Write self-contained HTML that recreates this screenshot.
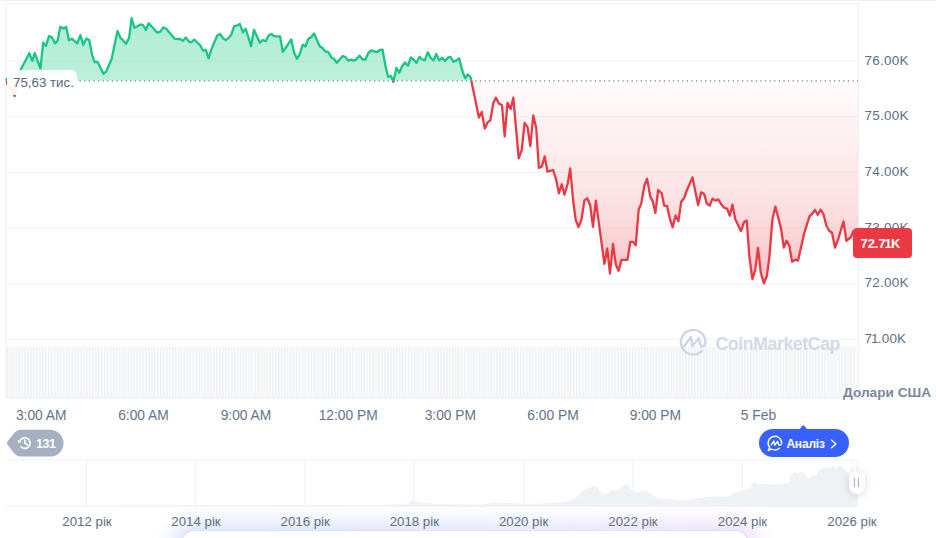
<!DOCTYPE html>
<html lang="uk"><head><meta charset="utf-8"><title>Chart</title>
<style>
html,body{margin:0;padding:0;background:#fff;}
body{width:936px;height:538px;overflow:hidden;position:relative;font-family:"Liberation Sans",sans-serif;color:#616e85;}
#chart{position:absolute;left:0;top:0;display:block}
.yl{position:absolute;left:864.6px;letter-spacing:0.2px;font-size:13.5px;line-height:16px;height:16px;color:#616e85;white-space:nowrap}
.xl{position:absolute;top:408.3px;font-size:13.8px;line-height:16px;width:100px;margin-left:-50px;text-align:center;color:#66738a;white-space:nowrap}
.yr{position:absolute;top:514px;font-size:13.25px;line-height:16px;width:100px;margin-left:-50px;text-align:center;color:#616e85;white-space:nowrap;z-index:3}
#glow{position:absolute;left:181px;top:529.5px;width:568px;height:40px;background:#fff;border-radius:14px 14px 0 0;border:1px solid rgba(160,175,250,0.35);border-bottom:none;box-sizing:border-box;z-index:1}
#glowbg{position:absolute;left:173px;top:522px;width:584px;height:50px;border-radius:20px;background:linear-gradient(90deg,rgba(110,140,250,0.26),rgba(135,140,250,0.24) 60%,rgba(190,130,235,0.27));filter:blur(10px);z-index:0}
.n{margin:0 -1px 0 -1.3px}
.n2{margin:0 -0.6px 0 -1.1px}
#start{position:absolute;left:7px;top:70px;width:70px;height:25px;background:rgba(255,255,255,0.92);border-radius:0 6px 6px 0;font-size:13.3px;line-height:26px;color:#58667e;white-space:nowrap;box-sizing:border-box;padding-left:6px}
#price{position:absolute;left:853px;top:228px;width:59px;height:29.5px;background:#ea3943;border-radius:4px;color:#fff;font-weight:bold;font-size:13px;line-height:31px;text-align:left;padding-left:7.5px;box-sizing:border-box;letter-spacing:-0.05px}
#usd{position:absolute;left:843px;top:384.8px;font-size:13.65px;line-height:16px;font-weight:bold;color:#7c879b;white-space:nowrap}
#wm{position:absolute;left:715.5px;top:332.5px;font-size:17.6px;line-height:22px;font-weight:bold;color:#d3d9e6;white-space:nowrap;letter-spacing:-0.35px}
#hist{position:absolute;left:0;top:0}
#histt{position:absolute;left:36px;top:437.1px;font-size:12.5px;line-height:15px;font-weight:bold;color:#fff;letter-spacing:-0.45px}
#an{position:absolute;left:759px;top:429px;width:90px;height:28px;border-radius:14px;background:#3861fb;z-index:2}
#ant{position:absolute;left:786.4px;top:437.2px;font-size:12px;line-height:14px;font-weight:bold;color:#fff;z-index:3;white-space:nowrap;letter-spacing:-0.2px}
#handle{position:absolute;left:849px;top:471px;width:15.5px;height:23px;border-radius:8px;background:#fff;box-shadow:0 1px 8px rgba(88,102,126,0.24);z-index:4}
#handle i{position:absolute;top:7px;width:1.3px;height:9px;background:#a6b0c3}
</style></head><body>
<svg id="chart" width="936" height="538" viewBox="0 0 936 538">
<defs>
<linearGradient id="gg" x1="0" y1="0" x2="0" y2="1"><stop offset="0" stop-color="#16c784" stop-opacity="0.34"/><stop offset="1" stop-color="#16c784" stop-opacity="0.27"/></linearGradient>
<linearGradient id="rg" gradientUnits="userSpaceOnUse" x1="0" y1="80" x2="0" y2="290"><stop offset="0" stop-color="#ea3943" stop-opacity="0.02"/><stop offset="0.33" stop-color="#ea3943" stop-opacity="0.09"/><stop offset="0.6" stop-color="#ea3943" stop-opacity="0.155"/><stop offset="0.81" stop-color="#ea3943" stop-opacity="0.245"/><stop offset="1" stop-color="#ea3943" stop-opacity="0.3"/></linearGradient>
<pattern id="vol" x="6.6" y="0" width="2.95" height="60" patternUnits="userSpaceOnUse"><rect x="0" y="0" width="1.6" height="60" fill="#edf0f4"/></pattern>
<filter id="hs" x="-100%" y="-100%" width="300%" height="300%"><feDropShadow dx="0" dy="1" stdDeviation="3" flood-color="#58667e" flood-opacity="0.25"/></filter>
<clipPath id="cu"><rect x="5" y="0" width="854" height="80.8"/></clipPath><clipPath id="cd"><rect x="5" y="80.8" width="854" height="320"/></clipPath>
</defs>
<rect x="0" y="0" width="936" height="1" fill="#eeeeee"/>
<rect x="6" y="60.6" width="852.5" height="1" fill="#f2f3f5"/>
<rect x="6" y="116.3" width="852.5" height="1" fill="#f2f3f5"/>
<rect x="6" y="172.0" width="852.5" height="1" fill="#f2f3f5"/>
<rect x="6" y="227.6" width="852.5" height="1" fill="#f2f3f5"/>
<rect x="6" y="283.3" width="852.5" height="1" fill="#f2f3f5"/>
<rect x="6" y="339.0" width="852.5" height="1" fill="#f2f3f5"/>
<rect x="6.6" y="347" width="850" height="51" fill="url(#vol)"/>
<rect x="6.1" y="3.8" width="852.4" height="394.2" fill="none" stroke="#eeeff1" stroke-width="1.1"/>
<g clip-path="url(#cu)"><path d="M6.6,79.0 L7.3,84.0 L11.0,88.0 L14.6,96.0 L17.6,84.0 L20.9,69.2 L29.3,53.2 L32.3,60.9 L34.8,53.2 L40.4,68.5 L43.2,42.7 L46.0,45.9 L49.0,36.2 L51.8,37.2 L55.0,43.4 L57.5,40.7 L60.3,26.7 L63.4,28.4 L66.2,27.0 L69.0,40.4 L71.8,38.6 L77.3,43.4 L80.4,35.1 L83.3,44.8 L86.4,38.6 L89.2,40.0 L92.0,54.6 L94.7,62.2 L97.5,61.8 L103.4,73.8 L106.2,71.3 L111.5,59.5 L117.5,30.9 L120.5,37.9 L122.8,40.0 L125.9,43.9 L129.1,37.9 L131.6,18.1 L134.4,27.8 L140.6,24.4 L143.0,25.0 L145.9,29.8 L148.7,23.2 L157.3,32.7 L160.4,31.6 L163.2,27.4 L166.0,28.5 L174.6,38.8 L180.2,39.0 L183.0,40.9 L185.8,37.4 L188.6,41.4 L191.5,42.3 L194.3,39.5 L200.1,45.3 L203.2,50.8 L205.7,49.7 L208.5,58.3 L211.5,49.0 L217.1,35.8 L220.0,34.0 L223.1,38.3 L225.6,40.2 L228.7,37.9 L231.2,34.8 L234.3,26.0 L237.0,25.6 L239.8,23.9 L242.9,32.3 L245.7,28.8 L251.1,46.2 L253.9,29.8 L259.9,42.7 L262.7,40.0 L265.8,41.1 L268.6,35.5 L271.4,34.0 L274.1,36.2 L280.1,36.5 L282.8,51.8 L291.3,39.5 L294.1,52.5 L296.9,58.8 L299.6,54.3 L302.7,44.8 L305.5,46.5 L308.3,38.8 L311.1,37.2 L314.1,33.4 L319.7,46.2 L322.5,48.0 L325.4,51.5 L328.2,51.8 L331.3,57.4 L334.1,59.0 L336.8,62.7 L342.7,56.0 L345.5,57.1 L348.3,60.6 L351.1,59.7 L354.3,60.6 L356.8,58.8 L359.6,55.6 L362.6,59.5 L365.4,59.5 L368.2,53.2 L371.1,50.4 L376.7,52.2 L379.8,50.0 L382.6,49.7 L385.4,65.7 L388.1,76.9 L390.9,75.9 L393.4,81.8 L396.5,67.8 L399.3,72.7 L402.1,66.2 L404.9,62.5 L408.1,65.7 L410.9,57.4 L413.6,59.5 L416.4,62.9 L419.5,56.7 L422.3,59.5 L424.8,60.2 L427.9,52.2 L430.8,58.1 L433.6,60.4 L436.2,53.9 L439.4,60.4 L442.2,57.7 L445.0,60.9 L448.1,57.4 L450.6,57.0 L453.6,61.8 L456.4,60.4 L459.2,58.3 L462.4,71.3 L465.2,78.3 L467.7,74.5 L470.5,76.9 L471.4,80.8 L6,80.8 Z" fill="url(#gg)"/></g>
<g clip-path="url(#cd)"><path d="M6.6,79.0 L7.3,84.0 L11.0,88.0 L14.6,96.0 L17.6,84.0 L20.9,69.2 L29.3,53.2 L32.3,60.9 L34.8,53.2 L40.4,68.5 L43.2,42.7 L46.0,45.9 L49.0,36.2 L51.8,37.2 L55.0,43.4 L57.5,40.7 L60.3,26.7 L63.4,28.4 L66.2,27.0 L69.0,40.4 L71.8,38.6 L77.3,43.4 L80.4,35.1 L83.3,44.8 L86.4,38.6 L89.2,40.0 L92.0,54.6 L94.7,62.2 L97.5,61.8 L103.4,73.8 L106.2,71.3 L111.5,59.5 L117.5,30.9 L120.5,37.9 L122.8,40.0 L125.9,43.9 L129.1,37.9 L131.6,18.1 L134.4,27.8 L140.6,24.4 L143.0,25.0 L145.9,29.8 L148.7,23.2 L157.3,32.7 L160.4,31.6 L163.2,27.4 L166.0,28.5 L174.6,38.8 L180.2,39.0 L183.0,40.9 L185.8,37.4 L188.6,41.4 L191.5,42.3 L194.3,39.5 L200.1,45.3 L203.2,50.8 L205.7,49.7 L208.5,58.3 L211.5,49.0 L217.1,35.8 L220.0,34.0 L223.1,38.3 L225.6,40.2 L228.7,37.9 L231.2,34.8 L234.3,26.0 L237.0,25.6 L239.8,23.9 L242.9,32.3 L245.7,28.8 L251.1,46.2 L253.9,29.8 L259.9,42.7 L262.7,40.0 L265.8,41.1 L268.6,35.5 L271.4,34.0 L274.1,36.2 L280.1,36.5 L282.8,51.8 L291.3,39.5 L294.1,52.5 L296.9,58.8 L299.6,54.3 L302.7,44.8 L305.5,46.5 L308.3,38.8 L311.1,37.2 L314.1,33.4 L319.7,46.2 L322.5,48.0 L325.4,51.5 L328.2,51.8 L331.3,57.4 L334.1,59.0 L336.8,62.7 L342.7,56.0 L345.5,57.1 L348.3,60.6 L351.1,59.7 L354.3,60.6 L356.8,58.8 L359.6,55.6 L362.6,59.5 L365.4,59.5 L368.2,53.2 L371.1,50.4 L376.7,52.2 L379.8,50.0 L382.6,49.7 L385.4,65.7 L388.1,76.9 L390.9,75.9 L393.4,81.8 L396.5,67.8 L399.3,72.7 L402.1,66.2 L404.9,62.5 L408.1,65.7 L410.9,57.4 L413.6,59.5 L416.4,62.9 L419.5,56.7 L422.3,59.5 L424.8,60.2 L427.9,52.2 L430.8,58.1 L433.6,60.4 L436.2,53.9 L439.4,60.4 L442.2,57.7 L445.0,60.9 L448.1,57.4 L450.6,57.0 L453.6,61.8 L456.4,60.4 L459.2,58.3 L462.4,71.3 L465.2,78.3 L467.7,74.5 L470.5,76.9 L471.4,80.8 L472.2,85.0 L478.9,117.5 L481.7,111.9 L484.8,128.6 L487.6,122.4 L490.4,120.3 L493.3,102.9 L495.9,97.7 L499.1,103.8 L501.9,105.0 L504.7,136.3 L507.5,102.9 L510.6,108.9 L513.3,97.7 L518.7,158.4 L521.7,150.1 L524.6,122.8 L527.5,127.2 L530.3,146.0 L533.3,115.4 L536.2,128.0 L538.9,167.9 L541.9,166.4 L544.7,156.4 L547.5,171.7 L553.1,170.0 L555.9,178.6 L558.9,193.3 L561.7,184.3 L564.5,194.8 L567.7,183.7 L570.2,168.5 L573.2,201.0 L575.7,219.9 L578.5,227.2 L581.6,219.2 L584.4,200.4 L587.2,198.3 L590.2,205.3 L593.0,226.9 L595.8,200.7 L604.4,263.8 L607.2,248.4 L610.0,273.5 L613.0,243.8 L615.8,264.5 L618.6,270.7 L621.5,259.9 L627.4,259.9 L630.4,241.8 L632.9,241.9 L635.7,245.4 L638.7,209.5 L641.2,203.9 L644.3,185.8 L647.1,178.8 L650.3,196.9 L652.7,201.1 L655.4,212.9 L658.2,190.0 L661.7,193.4 L664.2,205.7 L667.0,206.0 L669.8,218.5 L672.6,227.3 L675.6,215.5 L678.4,221.3 L681.2,201.8 L684.0,198.3 L687.0,190.0 L692.5,177.4 L698.1,205.0 L701.2,192.3 L704.1,194.1 L706.9,203.6 L709.7,205.7 L712.5,198.6 L715.5,200.7 L718.3,199.4 L721.4,204.6 L724.2,207.8 L727.0,208.5 L729.7,215.7 L732.5,204.6 L735.3,219.2 L740.9,231.1 L744.1,222.0 L746.7,220.4 L749.4,256.8 L752.4,279.1 L755.2,270.0 L758.0,248.0 L760.8,272.8 L763.8,283.3 L766.8,276.3 L769.4,256.8 L772.4,219.5 L775.4,206.6 L781.0,228.5 L783.8,247.5 L786.6,240.7 L789.3,245.6 L792.1,261.7 L795.2,259.6 L798.0,260.6 L804.3,233.0 L809.5,216.3 L812.2,213.7 L815.0,210.0 L817.8,214.8 L820.6,209.7 L823.4,214.1 L826.4,225.7 L829.2,230.7 L832.0,232.7 L835.0,247.5 L838.1,239.4 L843.5,221.4 L846.4,240.9 L851.0,237.0 L853.3,231.3 L856.0,236.0 L858.0,240.0 L858,80.8 L6,80.8 Z" fill="url(#rg)"/></g>
<line x1="6" y1="80.8" x2="858" y2="80.8" stroke="#747c8b" stroke-width="1.3" stroke-dasharray="1.2 3.4"/>
<g clip-path="url(#cu)"><path d="M6.6,79.0 L7.3,84.0 L11.0,88.0 L14.6,96.0 L17.6,84.0 L20.9,69.2 L29.3,53.2 L32.3,60.9 L34.8,53.2 L40.4,68.5 L43.2,42.7 L46.0,45.9 L49.0,36.2 L51.8,37.2 L55.0,43.4 L57.5,40.7 L60.3,26.7 L63.4,28.4 L66.2,27.0 L69.0,40.4 L71.8,38.6 L77.3,43.4 L80.4,35.1 L83.3,44.8 L86.4,38.6 L89.2,40.0 L92.0,54.6 L94.7,62.2 L97.5,61.8 L103.4,73.8 L106.2,71.3 L111.5,59.5 L117.5,30.9 L120.5,37.9 L122.8,40.0 L125.9,43.9 L129.1,37.9 L131.6,18.1 L134.4,27.8 L140.6,24.4 L143.0,25.0 L145.9,29.8 L148.7,23.2 L157.3,32.7 L160.4,31.6 L163.2,27.4 L166.0,28.5 L174.6,38.8 L180.2,39.0 L183.0,40.9 L185.8,37.4 L188.6,41.4 L191.5,42.3 L194.3,39.5 L200.1,45.3 L203.2,50.8 L205.7,49.7 L208.5,58.3 L211.5,49.0 L217.1,35.8 L220.0,34.0 L223.1,38.3 L225.6,40.2 L228.7,37.9 L231.2,34.8 L234.3,26.0 L237.0,25.6 L239.8,23.9 L242.9,32.3 L245.7,28.8 L251.1,46.2 L253.9,29.8 L259.9,42.7 L262.7,40.0 L265.8,41.1 L268.6,35.5 L271.4,34.0 L274.1,36.2 L280.1,36.5 L282.8,51.8 L291.3,39.5 L294.1,52.5 L296.9,58.8 L299.6,54.3 L302.7,44.8 L305.5,46.5 L308.3,38.8 L311.1,37.2 L314.1,33.4 L319.7,46.2 L322.5,48.0 L325.4,51.5 L328.2,51.8 L331.3,57.4 L334.1,59.0 L336.8,62.7 L342.7,56.0 L345.5,57.1 L348.3,60.6 L351.1,59.7 L354.3,60.6 L356.8,58.8 L359.6,55.6 L362.6,59.5 L365.4,59.5 L368.2,53.2 L371.1,50.4 L376.7,52.2 L379.8,50.0 L382.6,49.7 L385.4,65.7 L388.1,76.9 L390.9,75.9 L393.4,81.8 L396.5,67.8 L399.3,72.7 L402.1,66.2 L404.9,62.5 L408.1,65.7 L410.9,57.4 L413.6,59.5 L416.4,62.9 L419.5,56.7 L422.3,59.5 L424.8,60.2 L427.9,52.2 L430.8,58.1 L433.6,60.4 L436.2,53.9 L439.4,60.4 L442.2,57.7 L445.0,60.9 L448.1,57.4 L450.6,57.0 L453.6,61.8 L456.4,60.4 L459.2,58.3 L462.4,71.3 L465.2,78.3 L467.7,74.5 L470.5,76.9 L471.4,80.8 L472.2,85.0 L478.9,117.5 L481.7,111.9 L484.8,128.6 L487.6,122.4 L490.4,120.3 L493.3,102.9 L495.9,97.7 L499.1,103.8 L501.9,105.0 L504.7,136.3 L507.5,102.9 L510.6,108.9 L513.3,97.7 L518.7,158.4 L521.7,150.1 L524.6,122.8 L527.5,127.2 L530.3,146.0 L533.3,115.4 L536.2,128.0 L538.9,167.9 L541.9,166.4 L544.7,156.4 L547.5,171.7 L553.1,170.0 L555.9,178.6 L558.9,193.3 L561.7,184.3 L564.5,194.8 L567.7,183.7 L570.2,168.5 L573.2,201.0 L575.7,219.9 L578.5,227.2 L581.6,219.2 L584.4,200.4 L587.2,198.3 L590.2,205.3 L593.0,226.9 L595.8,200.7 L604.4,263.8 L607.2,248.4 L610.0,273.5 L613.0,243.8 L615.8,264.5 L618.6,270.7 L621.5,259.9 L627.4,259.9 L630.4,241.8 L632.9,241.9 L635.7,245.4 L638.7,209.5 L641.2,203.9 L644.3,185.8 L647.1,178.8 L650.3,196.9 L652.7,201.1 L655.4,212.9 L658.2,190.0 L661.7,193.4 L664.2,205.7 L667.0,206.0 L669.8,218.5 L672.6,227.3 L675.6,215.5 L678.4,221.3 L681.2,201.8 L684.0,198.3 L687.0,190.0 L692.5,177.4 L698.1,205.0 L701.2,192.3 L704.1,194.1 L706.9,203.6 L709.7,205.7 L712.5,198.6 L715.5,200.7 L718.3,199.4 L721.4,204.6 L724.2,207.8 L727.0,208.5 L729.7,215.7 L732.5,204.6 L735.3,219.2 L740.9,231.1 L744.1,222.0 L746.7,220.4 L749.4,256.8 L752.4,279.1 L755.2,270.0 L758.0,248.0 L760.8,272.8 L763.8,283.3 L766.8,276.3 L769.4,256.8 L772.4,219.5 L775.4,206.6 L781.0,228.5 L783.8,247.5 L786.6,240.7 L789.3,245.6 L792.1,261.7 L795.2,259.6 L798.0,260.6 L804.3,233.0 L809.5,216.3 L812.2,213.7 L815.0,210.0 L817.8,214.8 L820.6,209.7 L823.4,214.1 L826.4,225.7 L829.2,230.7 L832.0,232.7 L835.0,247.5 L838.1,239.4 L843.5,221.4 L846.4,240.9 L851.0,237.0 L853.3,231.3 L856.0,236.0 L858.0,240.0" fill="none" stroke="#16c784" stroke-width="2.3" stroke-linejoin="round" stroke-linecap="round"/></g>
<g clip-path="url(#cd)"><path d="M6.6,79.0 L7.3,84.0 L11.0,88.0 L14.6,96.0 L17.6,84.0 L20.9,69.2 L29.3,53.2 L32.3,60.9 L34.8,53.2 L40.4,68.5 L43.2,42.7 L46.0,45.9 L49.0,36.2 L51.8,37.2 L55.0,43.4 L57.5,40.7 L60.3,26.7 L63.4,28.4 L66.2,27.0 L69.0,40.4 L71.8,38.6 L77.3,43.4 L80.4,35.1 L83.3,44.8 L86.4,38.6 L89.2,40.0 L92.0,54.6 L94.7,62.2 L97.5,61.8 L103.4,73.8 L106.2,71.3 L111.5,59.5 L117.5,30.9 L120.5,37.9 L122.8,40.0 L125.9,43.9 L129.1,37.9 L131.6,18.1 L134.4,27.8 L140.6,24.4 L143.0,25.0 L145.9,29.8 L148.7,23.2 L157.3,32.7 L160.4,31.6 L163.2,27.4 L166.0,28.5 L174.6,38.8 L180.2,39.0 L183.0,40.9 L185.8,37.4 L188.6,41.4 L191.5,42.3 L194.3,39.5 L200.1,45.3 L203.2,50.8 L205.7,49.7 L208.5,58.3 L211.5,49.0 L217.1,35.8 L220.0,34.0 L223.1,38.3 L225.6,40.2 L228.7,37.9 L231.2,34.8 L234.3,26.0 L237.0,25.6 L239.8,23.9 L242.9,32.3 L245.7,28.8 L251.1,46.2 L253.9,29.8 L259.9,42.7 L262.7,40.0 L265.8,41.1 L268.6,35.5 L271.4,34.0 L274.1,36.2 L280.1,36.5 L282.8,51.8 L291.3,39.5 L294.1,52.5 L296.9,58.8 L299.6,54.3 L302.7,44.8 L305.5,46.5 L308.3,38.8 L311.1,37.2 L314.1,33.4 L319.7,46.2 L322.5,48.0 L325.4,51.5 L328.2,51.8 L331.3,57.4 L334.1,59.0 L336.8,62.7 L342.7,56.0 L345.5,57.1 L348.3,60.6 L351.1,59.7 L354.3,60.6 L356.8,58.8 L359.6,55.6 L362.6,59.5 L365.4,59.5 L368.2,53.2 L371.1,50.4 L376.7,52.2 L379.8,50.0 L382.6,49.7 L385.4,65.7 L388.1,76.9 L390.9,75.9 L393.4,81.8 L396.5,67.8 L399.3,72.7 L402.1,66.2 L404.9,62.5 L408.1,65.7 L410.9,57.4 L413.6,59.5 L416.4,62.9 L419.5,56.7 L422.3,59.5 L424.8,60.2 L427.9,52.2 L430.8,58.1 L433.6,60.4 L436.2,53.9 L439.4,60.4 L442.2,57.7 L445.0,60.9 L448.1,57.4 L450.6,57.0 L453.6,61.8 L456.4,60.4 L459.2,58.3 L462.4,71.3 L465.2,78.3 L467.7,74.5 L470.5,76.9 L471.4,80.8 L472.2,85.0 L478.9,117.5 L481.7,111.9 L484.8,128.6 L487.6,122.4 L490.4,120.3 L493.3,102.9 L495.9,97.7 L499.1,103.8 L501.9,105.0 L504.7,136.3 L507.5,102.9 L510.6,108.9 L513.3,97.7 L518.7,158.4 L521.7,150.1 L524.6,122.8 L527.5,127.2 L530.3,146.0 L533.3,115.4 L536.2,128.0 L538.9,167.9 L541.9,166.4 L544.7,156.4 L547.5,171.7 L553.1,170.0 L555.9,178.6 L558.9,193.3 L561.7,184.3 L564.5,194.8 L567.7,183.7 L570.2,168.5 L573.2,201.0 L575.7,219.9 L578.5,227.2 L581.6,219.2 L584.4,200.4 L587.2,198.3 L590.2,205.3 L593.0,226.9 L595.8,200.7 L604.4,263.8 L607.2,248.4 L610.0,273.5 L613.0,243.8 L615.8,264.5 L618.6,270.7 L621.5,259.9 L627.4,259.9 L630.4,241.8 L632.9,241.9 L635.7,245.4 L638.7,209.5 L641.2,203.9 L644.3,185.8 L647.1,178.8 L650.3,196.9 L652.7,201.1 L655.4,212.9 L658.2,190.0 L661.7,193.4 L664.2,205.7 L667.0,206.0 L669.8,218.5 L672.6,227.3 L675.6,215.5 L678.4,221.3 L681.2,201.8 L684.0,198.3 L687.0,190.0 L692.5,177.4 L698.1,205.0 L701.2,192.3 L704.1,194.1 L706.9,203.6 L709.7,205.7 L712.5,198.6 L715.5,200.7 L718.3,199.4 L721.4,204.6 L724.2,207.8 L727.0,208.5 L729.7,215.7 L732.5,204.6 L735.3,219.2 L740.9,231.1 L744.1,222.0 L746.7,220.4 L749.4,256.8 L752.4,279.1 L755.2,270.0 L758.0,248.0 L760.8,272.8 L763.8,283.3 L766.8,276.3 L769.4,256.8 L772.4,219.5 L775.4,206.6 L781.0,228.5 L783.8,247.5 L786.6,240.7 L789.3,245.6 L792.1,261.7 L795.2,259.6 L798.0,260.6 L804.3,233.0 L809.5,216.3 L812.2,213.7 L815.0,210.0 L817.8,214.8 L820.6,209.7 L823.4,214.1 L826.4,225.7 L829.2,230.7 L832.0,232.7 L835.0,247.5 L838.1,239.4 L843.5,221.4 L846.4,240.9 L851.0,237.0 L853.3,231.3 L856.0,236.0 L858.0,240.0" fill="none" stroke="#ea3943" stroke-width="2.3" stroke-linejoin="round" stroke-linecap="round"/></g>
<rect x="6" y="459.5" width="852" height="1" fill="#f0f1f3"/>
<rect x="6" y="505.8" width="852" height="1" fill="#f0f1f3"/>
<rect x="86.25" y="460" width="1" height="46" fill="#f0f1f3"/>
<rect x="195.25" y="460" width="1" height="46" fill="#f0f1f3"/>
<rect x="304.50" y="460" width="1" height="46" fill="#f0f1f3"/>
<rect x="413.60" y="460" width="1" height="46" fill="#f0f1f3"/>
<rect x="523.10" y="460" width="1" height="46" fill="#f0f1f3"/>
<rect x="632.50" y="460" width="1" height="46" fill="#f0f1f3"/>
<rect x="742.00" y="460" width="1" height="46" fill="#f0f1f3"/>
<rect x="851.50" y="460" width="1" height="46" fill="#f0f1f3"/>
<rect x="857" y="460" width="1" height="46" fill="#eceef2"/>
<path d="M6.0,505.8 L7.4,505.8 L8.8,505.8 L10.2,505.8 L11.6,505.8 L13.0,505.8 L14.4,505.8 L15.8,505.8 L17.2,505.8 L18.6,505.8 L20.0,505.8 L21.4,505.8 L22.8,505.8 L24.2,505.8 L25.6,505.8 L27.0,505.8 L28.4,505.8 L29.8,505.8 L31.2,505.8 L32.6,505.8 L34.0,505.8 L35.4,505.8 L36.8,505.8 L38.2,505.8 L39.6,505.8 L41.0,505.8 L42.4,505.8 L43.8,505.7 L45.2,505.7 L46.6,505.7 L48.0,505.7 L49.4,505.7 L50.8,505.7 L52.2,505.7 L53.6,505.7 L55.0,505.7 L56.4,505.7 L57.8,505.7 L59.2,505.7 L60.6,505.7 L62.0,505.7 L63.4,505.7 L64.8,505.7 L66.2,505.7 L67.6,505.7 L69.0,505.7 L70.4,505.7 L71.8,505.7 L73.2,505.7 L74.6,505.7 L76.0,505.7 L77.4,505.7 L78.8,505.7 L80.2,505.7 L81.6,505.7 L83.0,505.7 L84.4,505.7 L85.8,505.7 L87.2,505.7 L88.6,505.7 L90.0,505.7 L91.4,505.7 L92.8,505.7 L94.2,505.7 L95.6,505.7 L97.0,505.7 L98.4,505.7 L99.9,505.7 L101.3,505.7 L102.7,505.7 L104.1,505.7 L105.5,505.7 L106.9,505.7 L108.3,505.7 L109.7,505.7 L111.1,505.7 L112.5,505.7 L113.9,505.7 L115.3,505.7 L116.7,505.7 L118.1,505.7 L119.5,505.6 L120.9,505.6 L122.3,505.6 L123.7,505.6 L125.1,505.6 L126.5,505.6 L127.9,505.6 L129.3,505.6 L130.7,505.6 L132.1,505.6 L133.5,505.6 L134.9,505.6 L136.3,505.6 L137.7,505.6 L139.1,505.6 L140.5,505.6 L141.9,505.6 L143.3,505.6 L144.7,505.6 L146.1,505.6 L147.5,505.6 L148.9,505.6 L150.3,505.6 L151.7,505.6 L153.1,505.6 L154.5,505.6 L155.9,505.6 L157.3,505.6 L158.7,505.6 L160.1,505.6 L161.5,505.6 L162.9,505.6 L164.3,505.6 L165.7,505.6 L167.1,505.6 L168.5,505.6 L169.9,505.6 L171.3,505.6 L172.7,505.6 L174.1,505.6 L175.5,505.6 L176.9,505.6 L178.3,505.6 L179.7,505.6 L181.1,505.6 L182.5,505.6 L183.9,505.6 L185.3,505.6 L186.7,505.6 L188.1,505.6 L189.5,505.6 L190.9,505.6 L192.3,505.6 L193.7,505.5 L195.1,505.5 L196.5,505.5 L197.9,505.5 L199.3,505.5 L200.7,505.5 L202.1,505.5 L203.5,505.5 L204.9,505.5 L206.3,505.5 L207.7,505.5 L209.1,505.5 L210.5,505.5 L211.9,505.5 L213.3,505.5 L214.7,505.5 L216.1,505.5 L217.5,505.5 L218.9,505.5 L220.3,505.5 L221.7,505.5 L223.1,505.5 L224.5,505.5 L225.9,505.5 L227.3,505.5 L228.7,505.5 L230.1,505.5 L231.5,505.5 L232.9,505.5 L234.3,505.5 L235.7,505.5 L237.1,505.5 L238.5,505.5 L239.9,505.5 L241.3,505.5 L242.7,505.5 L244.1,505.5 L245.5,505.5 L246.9,505.5 L248.3,505.5 L249.7,505.5 L251.1,505.5 L252.5,505.5 L253.9,505.5 L255.3,505.5 L256.7,505.5 L258.1,505.5 L259.5,505.5 L260.9,505.5 L262.3,505.5 L263.7,505.5 L265.1,505.5 L266.5,505.5 L267.9,505.4 L269.3,505.4 L270.7,505.4 L272.1,505.4 L273.5,505.4 L274.9,505.4 L276.3,505.4 L277.7,505.4 L279.1,505.4 L280.5,505.4 L281.9,505.4 L283.3,505.4 L284.7,505.4 L286.1,505.4 L287.6,505.4 L289.0,505.4 L290.4,505.4 L291.8,505.4 L293.2,505.4 L294.6,505.4 L296.0,505.4 L297.4,505.4 L298.8,505.4 L300.2,505.4 L301.6,505.4 L303.0,505.4 L304.4,505.4 L305.8,505.4 L307.2,505.4 L308.6,505.4 L310.0,505.4 L311.4,505.4 L312.8,505.4 L314.2,505.4 L315.6,505.4 L317.0,505.4 L318.4,505.4 L319.8,505.4 L321.2,505.4 L322.6,505.4 L324.0,505.4 L325.4,505.4 L326.8,505.4 L328.2,505.4 L329.6,505.4 L331.0,505.4 L332.4,505.4 L333.8,505.4 L335.2,505.4 L336.6,505.4 L338.0,505.4 L339.4,505.4 L340.8,505.4 L342.2,505.4 L343.6,505.3 L345.0,505.3 L346.4,505.3 L347.8,505.3 L349.2,505.3 L350.6,505.3 L352.0,505.3 L353.4,505.3 L354.8,505.3 L356.2,505.3 L357.6,505.3 L359.0,505.3 L360.4,505.3 L361.8,505.3 L363.2,505.3 L364.6,505.3 L366.0,505.3 L367.4,505.3 L368.8,505.3 L370.2,505.3 L371.6,505.3 L373.0,505.3 L374.4,505.3 L375.8,505.3 L377.2,505.3 L378.6,505.3 L380.0,505.3 L381.4,505.2 L382.8,505.2 L384.3,505.1 L385.7,505.1 L387.1,505.0 L388.5,504.9 L390.0,504.9 L391.4,504.8 L392.8,504.8 L394.2,504.7 L395.6,504.6 L397.1,504.6 L398.5,504.5 L399.9,504.4 L401.3,504.4 L402.8,504.3 L404.2,504.3 L405.6,504.2 L407.1,503.6 L408.5,503.2 L410.0,502.6 L411.4,501.1 L412.8,499.7 L415.0,501.5 L416.8,502.0 L418.5,502.5 L420.1,502.6 L421.8,502.8 L423.4,502.8 L425.0,503.0 L426.6,503.2 L428.1,503.2 L429.7,503.5 L431.3,503.6 L432.7,503.7 L434.2,503.8 L435.6,503.9 L437.1,503.9 L438.5,503.9 L440.0,503.9 L441.4,504.0 L442.9,504.1 L444.3,504.1 L445.8,504.1 L447.2,504.2 L448.7,504.2 L450.1,504.3 L451.6,504.3 L453.0,504.3 L454.5,504.4 L455.9,504.5 L457.4,504.5 L458.8,504.5 L460.3,504.5 L461.7,504.6 L463.2,504.7 L464.6,504.7 L466.1,504.7 L467.6,504.7 L469.1,504.7 L470.6,504.6 L472.1,504.7 L473.6,504.7 L475.1,504.7 L476.6,504.7 L478.1,504.7 L479.6,504.7 L481.1,504.7 L482.6,504.6 L484.0,504.5 L485.4,504.2 L486.9,504.1 L488.3,503.8 L489.7,503.6 L491.1,503.3 L492.6,503.2 L494.0,502.9 L495.4,502.8 L497.0,502.7 L498.6,502.9 L500.2,502.7 L501.8,502.8 L503.4,502.8 L505.0,502.9 L506.7,502.9 L508.3,503.0 L510.0,503.0 L511.6,503.2 L513.3,503.2 L514.8,503.2 L516.2,503.3 L517.7,503.4 L519.2,503.5 L520.7,503.6 L522.1,503.7 L523.6,503.8 L525.1,503.7 L526.7,503.6 L528.2,503.7 L529.8,503.7 L531.3,503.7 L532.8,503.7 L534.4,503.8 L535.9,503.7 L537.5,503.8 L539.0,503.7 L540.5,503.6 L541.9,503.4 L543.4,503.4 L544.9,503.3 L546.3,503.3 L547.8,503.1 L549.2,503.1 L550.7,503.0 L552.2,502.9 L553.6,502.7 L555.1,502.6 L556.6,502.6 L558.0,502.6 L559.5,502.4 L561.0,502.2 L562.4,502.0 L563.9,501.9 L565.3,501.7 L566.8,501.4 L568.2,501.5 L569.7,501.3 L571.1,500.6 L572.6,499.5 L574.0,498.9 L575.7,497.4 L577.4,495.7 L579.2,494.3 L581.0,491.8 L583.0,490.8 L585.1,489.0 L586.5,488.9 L588.0,488.6 L589.6,487.6 L591.2,487.4 L592.8,485.4 L595.5,487.5 L598.0,487.1 L600.5,491.7 L603.0,494.8 L605.5,493.7 L608.2,493.4 L611.0,490.7 L613.3,489.3 L616.0,491.1 L618.0,489.5 L620.0,488.2 L621.5,487.3 L623.0,485.7 L624.5,485.6 L626.0,483.4 L628.5,485.7 L630.1,488.4 L631.7,489.8 L634.5,490.7 L636.0,491.9 L637.5,492.3 L639.2,491.5 L641.0,490.7 L642.7,490.9 L644.3,491.0 L646.0,491.3 L647.5,491.6 L649.0,493.1 L650.5,493.7 L651.9,494.6 L653.4,495.1 L655.2,496.6 L657.0,497.3 L658.8,498.0 L660.6,498.7 L662.0,498.7 L663.5,499.2 L664.9,498.9 L666.3,499.0 L667.7,498.6 L669.1,499.0 L670.6,498.9 L672.0,499.2 L673.7,499.2 L675.3,500.0 L677.0,499.9 L678.6,500.4 L680.3,500.3 L682.0,500.5 L683.6,500.8 L685.2,500.4 L686.8,500.1 L688.4,499.9 L690.0,499.5 L691.6,499.1 L693.1,499.1 L694.7,498.4 L696.3,498.4 L697.9,498.1 L699.4,497.9 L701.0,497.5 L702.4,497.9 L703.8,497.5 L705.2,497.4 L706.6,496.7 L708.0,496.9 L709.5,496.8 L711.0,497.1 L712.4,496.5 L713.9,496.4 L715.4,496.1 L716.9,496.4 L718.3,496.1 L719.8,496.2 L721.2,496.5 L722.6,496.9 L724.1,496.8 L725.5,496.5 L727.0,496.4 L729.0,495.7 L731.0,494.7 L732.5,494.1 L734.1,492.7 L735.6,492.7 L737.1,491.7 L738.5,491.4 L740.0,490.6 L741.4,491.3 L742.8,490.6 L744.2,490.6 L747.0,489.3 L748.5,488.6 L750.0,489.1 L752.0,483.9 L754.3,481.6 L757.0,484.0 L758.5,484.2 L760.0,483.7 L761.5,484.0 L763.2,483.8 L765.0,483.7 L767.0,483.6 L769.0,484.8 L771.0,484.4 L773.0,483.5 L774.7,484.7 L776.3,484.5 L778.0,484.3 L779.6,484.9 L781.3,483.4 L783.0,484.2 L784.6,483.1 L787.0,482.9 L789.0,482.2 L790.5,476.3 L791.8,474.0 L794.5,472.1 L796.0,472.5 L797.6,472.7 L800.0,472.5 L802.5,472.5 L804.8,473.4 L807.0,477.7 L809.0,478.7 L810.5,478.4 L812.0,475.6 L813.5,475.1 L815.0,474.7 L816.5,474.4 L818.0,471.6 L820.7,468.3 L822.4,469.8 L824.0,466.7 L826.0,468.0 L827.9,467.7 L830.5,467.7 L832.0,466.3 L833.6,466.2 L835.0,466.7 L836.5,468.7 L838.0,466.6 L839.4,464.7 L842.0,465.9 L843.6,469.2 L845.2,469.4 L848.0,473.2 L849.5,475.7 L851.0,476.1 L852.5,476.0 L854.0,476.4 L855.8,477.2 L857.5,478.0 L857.5,506 L6,506 Z" fill="#eff2f5"/>
</svg>
<div id="glowbg"></div><div id="glow"></div>
<div id="start">75,63 тис.</div>
<div class="yl" style="top:52.5px">76.00K</div>
<div class="yl" style="top:108.2px">75.00K</div>
<div class="yl" style="top:163.9px">74.00K</div>
<div class="yl" style="top:219.5px">73.00K</div>
<div class="yl" style="top:275.2px">72.00K</div>
<div class="yl" style="top:330.9px">7<span class=n>1</span>.00K</div>
<div id="price">72.7<span class=n2>1</span>K</div>
<div class="xl" style="left:41.2px">3:00 AM</div>
<div class="xl" style="left:143.5px">6:00 AM</div>
<div class="xl" style="left:246px">9:00 AM</div>
<div class="xl" style="left:348.2px">12:00 PM</div>
<div class="xl" style="left:450.4px">3:00 PM</div>
<div class="xl" style="left:553px">6:00 PM</div>
<div class="xl" style="left:655.4px">9:00 PM</div>
<div class="xl" style="left:758.5px">5 Feb</div>
<div class="yr" style="left:87px">2012 рік</div>
<div class="yr" style="left:196px">2014 рік</div>
<div class="yr" style="left:305.2px">2016 рік</div>
<div class="yr" style="left:414.3px">2018 рік</div>
<div class="yr" style="left:523.6px">2020 рік</div>
<div class="yr" style="left:633px">2022 рік</div>
<div class="yr" style="left:742.5px">2024 рік</div>
<div class="yr" style="left:852px">2026 рік</div>
<div id="usd">Долари США</div>
<svg style="position:absolute;left:0;top:0" width="936" height="538" viewBox="0 0 936 538"><path d="M683.9,346.6 L691,337 L692.2,346.4 L698.8,338 L700,343.5 C700.8,347.6 705.5,347.4 705.5,341.9 A12.3,12.3 0 1 0 701.8,351" fill="none" stroke="#cfd6e4" stroke-width="2.4" stroke-linecap="round" stroke-linejoin="round"/></svg>
<div id="wm">CoinMarketCap</div>
<svg id="hist" width="80" height="470" viewBox="0 0 80 470" style="position:absolute;left:0;top:0;pointer-events:none">
<path d="M7.2,444.3 Q6.3,443.2 7.2,442.1 L13.4,434 Q16.7,429.8 22,429.8 L50,429.8 A13.5,13.4 0 0 1 50,456.6 L22,456.6 Q16.7,456.6 13.4,452.4 Z" fill="#a6b0c3"/>
<g fill="none" stroke="#fff" stroke-width="1.6" stroke-linecap="round" stroke-linejoin="round"><path d="M19.74,441.73 A5.3,5.3 0 1 1 20.98,446.71"/><path d="M24.86,440 L24.86,443.2 L27.5,444.9"/></g>
<path d="M17.5,440.2 L21.2,440.5 L18.9,443.5 Z" fill="#fff"/>
</svg>
<div id="histt">131</div>
<svg style="position:absolute;left:795px;top:422px;z-index:2" width="18" height="10" viewBox="0 0 18 10"><path d="M3.5,8.5 L7.6,3.6 Q8.3,2.8 9,3.6 L13.1,8.5 Z" fill="#3861fb"/></svg>
<div id="an"></div>
<svg style="position:absolute;left:0;top:0;z-index:3" width="936" height="538" viewBox="0 0 936 538"><path d="M771.3,444.8 L773.8,440.9 L774.8,445.2 L777.6,441.3 L778.4,444 C778.8,445.7 781.7,445.7 781.7,443.1 A6.8,6.8 0 1 0 769.7,447.5 L768.1,450.5 L771.5,449 A6.8,6.8 0 0 0 779.27,448.3" fill="none" stroke="#fff" stroke-width="1.4" stroke-linecap="round" stroke-linejoin="round"/></svg>
<div id="ant">Аналіз</div>
<svg style="position:absolute;left:829px;top:438px;z-index:3" width="10" height="12" viewBox="0 0 10 12"><path d="M2.5,2 L7,5.9 L2.5,9.8" fill="none" stroke="#fff" stroke-width="1.3" stroke-linecap="round" stroke-linejoin="round"/></svg>
<div id="handle"><i style="left:5.2px"></i><i style="left:8.8px"></i></div>
</body></html>
